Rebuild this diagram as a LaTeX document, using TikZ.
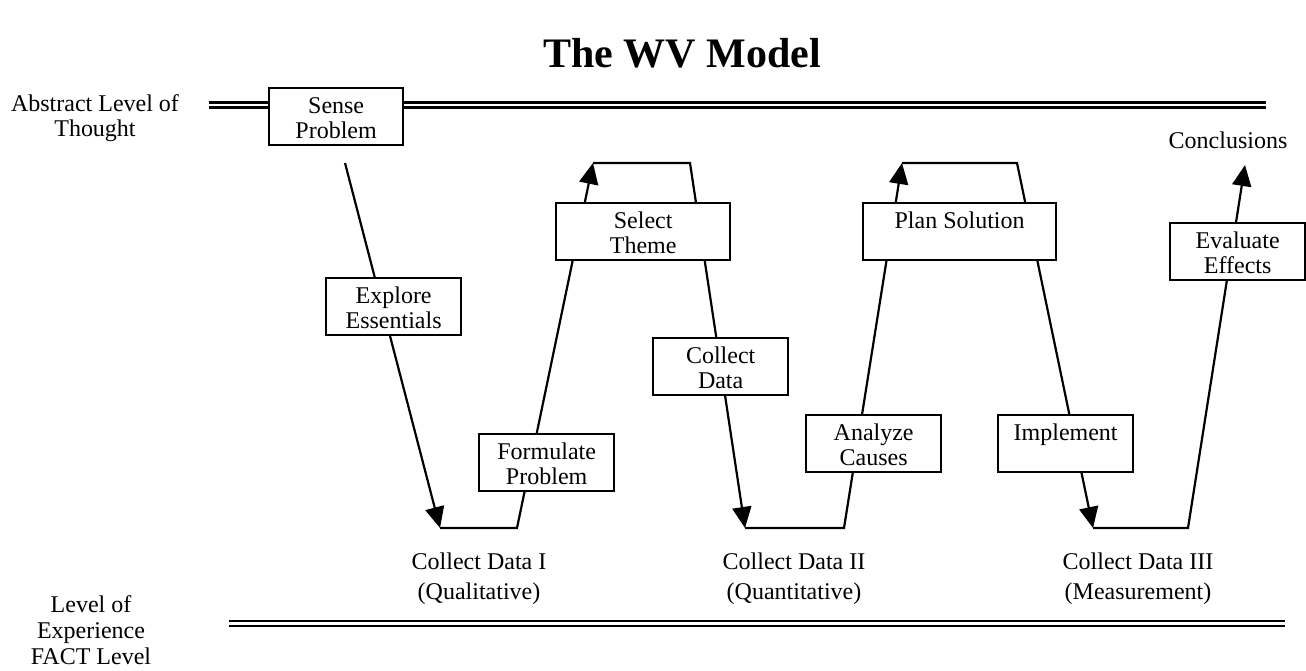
\documentclass[tikz,border=0pt]{standalone}
\usepackage{fontspec}
\setmainfont{Liberation Serif}
\usetikzlibrary{arrows.meta}

% text of a process box: fixed size, lines hung from the top edge
\newcommand{\boxtext}[2]{\parbox[c][57pt][t]{#1}{\centering\fontsize{24}{25}\selectfont\rule{0pt}{25pt}#2}}
% sets the first baseline of a free label 20pt below its top
\newcommand{\lblstrut}{\rule{0pt}{20pt}}

\begin{document}
\begin{tikzpicture}[x=1pt,y=-1pt,
  levelrule/.style={draw, double, line width=2.4pt, double distance=2.6pt},
  flow/.style={line width=2.2pt, line join=miter},
  flowarrow/.style={flow, -{Triangle[length=21pt,width=19pt]}},
  procbox/.style={draw, fill=white, line width=2.3pt, inner sep=0pt, anchor=north west},
  lbl/.style={align=center, inner sep=0pt, anchor=north, font=\fontsize{24}{25}\selectfont},
  factlbl/.style={align=center, inner sep=0pt, anchor=north, font=\fontsize{24}{26}\selectfont},
  datalbl/.style={align=center, inner sep=0pt, anchor=north, font=\fontsize{24}{30}\selectfont}]

\useasboundingbox (0,0) rectangle (1306,671);

% title
\node[anchor=base, inner sep=0pt, font=\fontsize{42}{42}\selectfont\bfseries] (title) at (682,68) {The WV Model};

% level labels and the two level rules
\node[lbl] (abstract) at (95,91) {\lblstrut Abstract Level of\\Thought};
\node[factlbl] (fact) at (91,592) {\lblstrut Level of\\Experience\\FACT Level};

\coordinate (absL) at (209,105.1);
\coordinate (absR) at (1266,105.1);
\coordinate (factL) at (229,623.7);
\coordinate (factR) at (1285,623.7);
\draw[levelrule] (absL) -- (absR);
\draw[levelrule] (factL) -- (factR);

% turning points of the W-V path
\coordinate (s0) at (345,163);
\coordinate (d1) at (440,528);
\coordinate (d1r) at (517,528);
\coordinate (u1) at (593,163);
\coordinate (u1r) at (690,163);
\coordinate (d2) at (745,528);
\coordinate (d2r) at (844,528);
\coordinate (u2) at (902,163);
\coordinate (u2r) at (1017,163);
\coordinate (d3) at (1093,528);
\coordinate (d3r) at (1188,528);
\coordinate (u3) at (1245,165);

\draw[flowarrow] (s0) -- (d1);
\draw[flowarrow] (d1) -- (d1r) -- (u1);
\draw[flowarrow] (u1) -- (u1r) -- (d2);
\draw[flowarrow] (d2) -- (d2r) -- (u2);
\draw[flowarrow] (u2) -- (u2r) -- (d3);
\draw[flowarrow] (d3) -- (d3r) -- (u3);

% process steps
\node[procbox] (sense) at (268,87) {\boxtext{134pt}{Sense\\Problem}};
\node[procbox] (explore) at (325,277) {\boxtext{135pt}{Explore\\Essentials}};
\node[procbox] (formulate) at (478,433) {\boxtext{135pt}{Formulate\\Problem}};
\node[procbox] (theme) at (555,202) {\boxtext{174pt}{Select\\Theme}};
\node[procbox] (collect) at (652,337) {\boxtext{135pt}{Collect\\Data}};
\node[procbox] (analyze) at (805,414) {\boxtext{135pt}{Analyze\\Causes}};
\node[procbox] (plan) at (862,202) {\boxtext{193pt}{Plan Solution}};
\node[procbox] (implement) at (997,414) {\boxtext{135pt}{Implement}};
\node[procbox] (evaluate) at (1169,222) {\boxtext{135pt}{Evaluate\\Effects}};

% data collection points and the end point
\node[datalbl] (cd1) at (479,549) {\lblstrut Collect Data I\\(Qualitative)};
\node[datalbl] (cd2) at (794,549) {\lblstrut Collect Data II\\(Quantitative)};
\node[datalbl] (cd3) at (1138,549) {\lblstrut Collect Data III\\(Measurement)};
\node[anchor=base, inner sep=0pt, font=\fontsize{24}{24}\selectfont] (concl) at (1228,149) {Conclusions};

\end{tikzpicture}
\end{document}
